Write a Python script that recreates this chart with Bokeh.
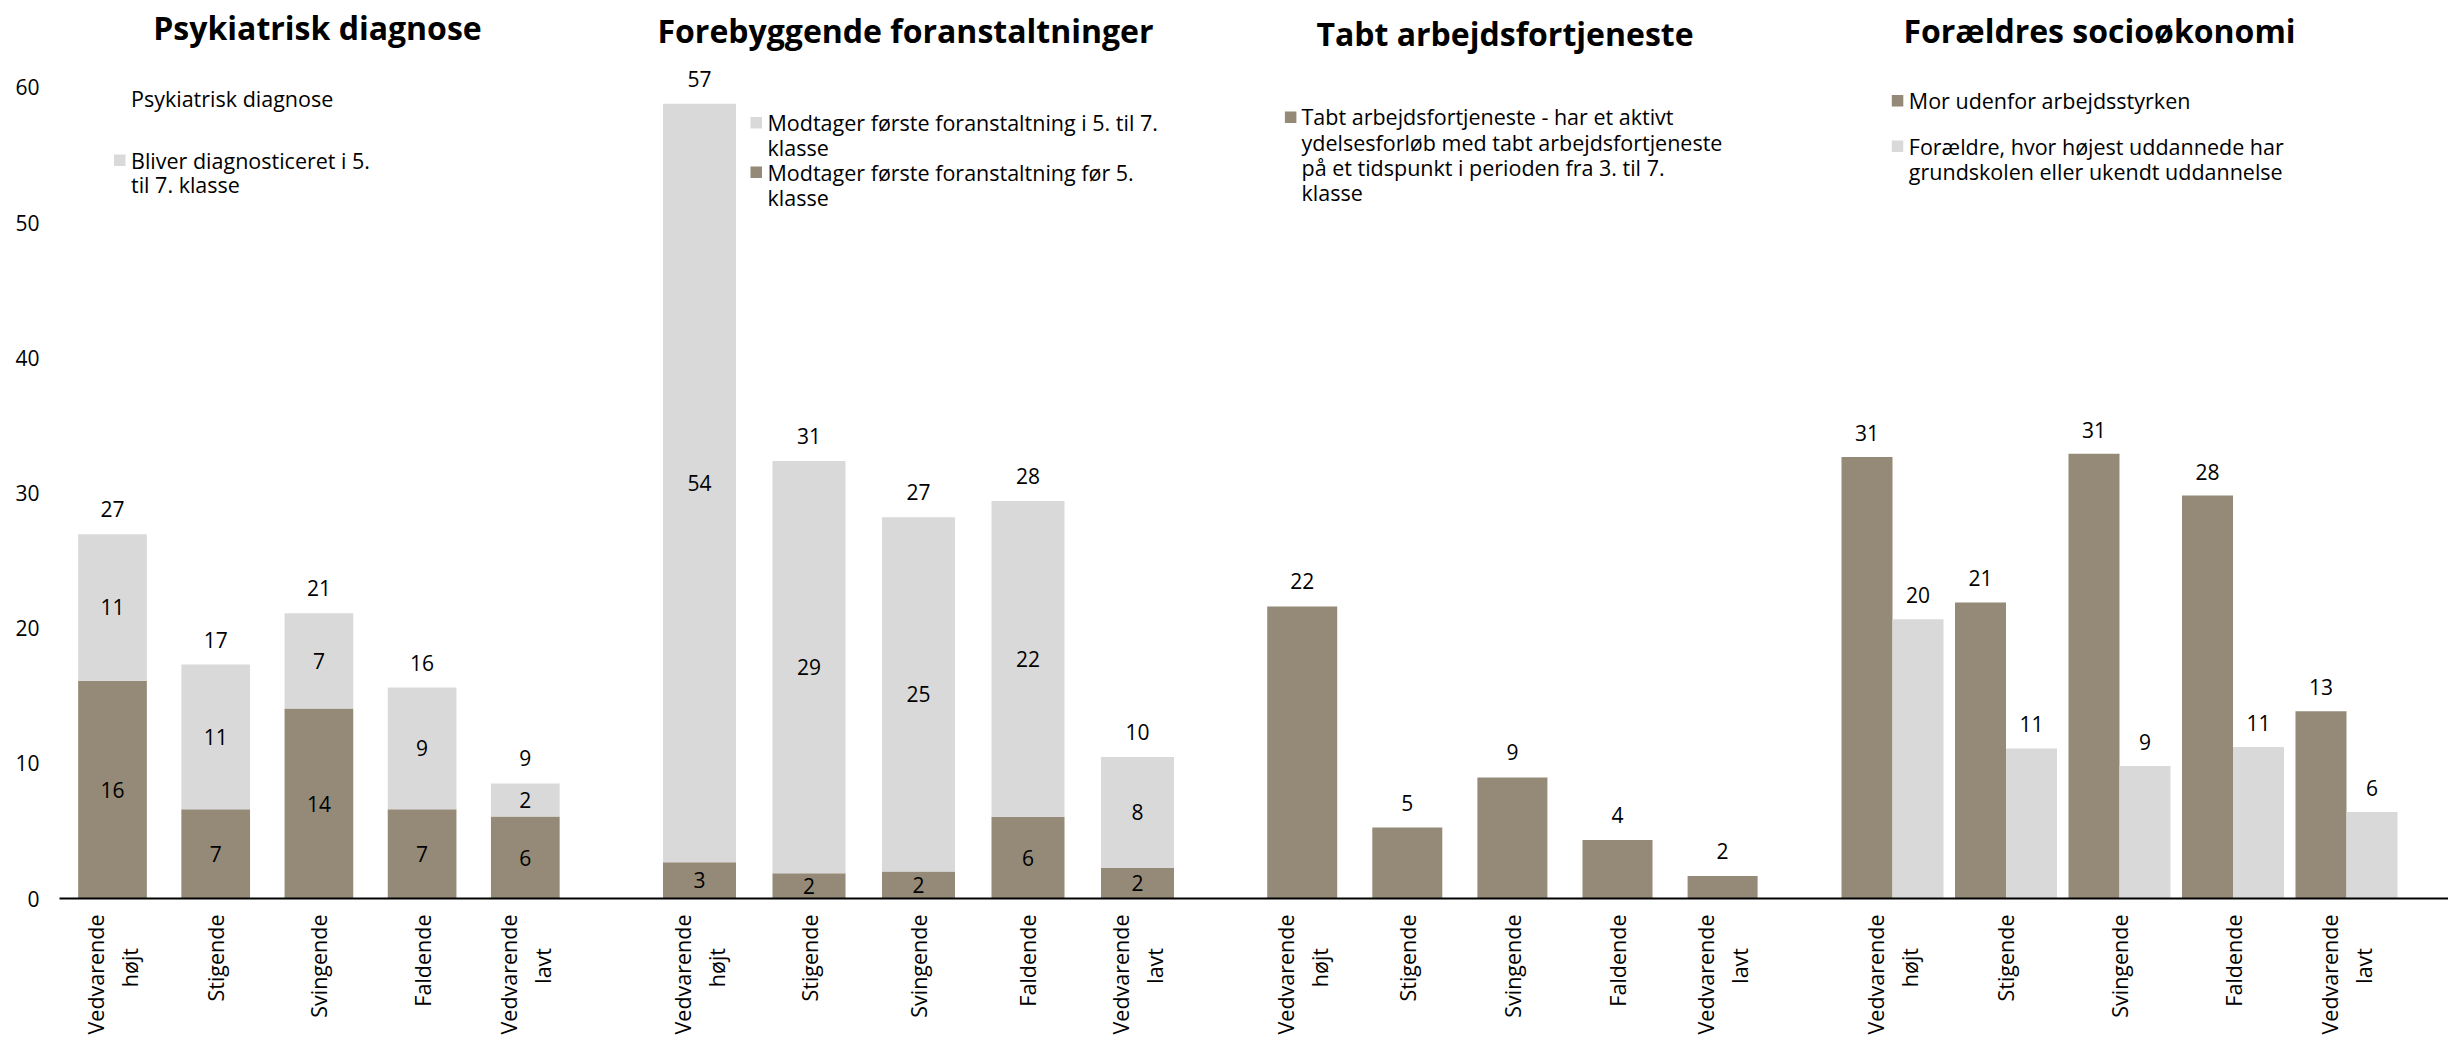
import math
from bokeh.plotting import figure
from bokeh.models import Range1d, FixedTicker, Label
from bokeh.embed import file_html
from bokeh.resources import INLINE
from bokeh.core.properties import value

# ---------------- data ----------------
categories = ["Vedvarende højt", "Stigende", "Svingende", "Faldende", "Vedvarende lavt"]
tick_labels = ["Vedvarende\nhøjt", "Stigende", "Svingende", "Faldende", "Vedvarende\nlavt"]
panel_titles = ["Psykiatrisk diagnose", "Forebyggende foranstaltninger",
                "Tabt arbejdsfortjeneste", "Forældres socioøkonomi"]
y_ticks = [0, 10, 20, 30, 40, 50, 60]

# Panel 1: Psykiatrisk diagnose (stacked)
psyk_before = [16.1, 6.6, 14.05, 6.6, 6.06]
psyk_5to7 = [10.85, 10.7, 7.05, 9.0, 2.45]
psyk_before_lbl = ["16", "7", "14", "7", "6"]
psyk_5to7_lbl = ["11", "11", "7", "9", "2"]
psyk_total_lbl = ["27", "17", "21", "16", "9"]

# Panel 2: Forebyggende foranstaltninger (stacked)
fore_before = [2.68, 1.86, 1.99, 6.05, 2.27]
fore_5to7 = [56.1, 30.5, 26.2, 23.35, 8.2]
fore_before_lbl = ["3", "2", "2", "6", "2"]
fore_5to7_lbl = ["54", "29", "25", "22", "8"]
fore_total_lbl = ["57", "31", "27", "28", "10"]

# Panel 3: Tabt arbejdsfortjeneste
tabt = [21.6, 5.25, 8.95, 4.33, 1.67]
tabt_lbl = ["22", "5", "9", "4", "2"]

# Panel 4: Forældres socioøkonomi (grouped)
mor = [32.66, 21.9, 32.9, 29.8, 13.85]
udd = [20.66, 11.1, 9.8, 11.2, 6.4]
mor_lbl = ["31", "21", "31", "28", "13"]
udd_lbl = ["20", "11", "9", "11", "6"]

# ---------------- layout (page pixels) ----------------
W, H = 2448, 1042
X0, Y0 = 59.0, 898.0          # frame left / baseline on the page
BORDER_L, BORDER_B = int(X0), int(H - Y0)
PPU = 13.52                   # pixels per data unit (y)
FIRST_CENTER = [112.0, 699.0, 1301.7, 1892.0]
STEP = [103.2, 109.5, 105.1, 113.5]
BAR_W = [68.7, 73.0, 70.0]
PAIR_BAR_W = 51.0
TITLE_X = [317.0, 905.0, 1504.5, 2099.0]
TITLE_MID = [27.0, 30.0, 33.0, 30.0]

BROWN = "#948a77"
GREY = "#d9d9d9"
FONT = "Open Sans"
NUM_SIZE = "21px"
LEG_SIZE = "21.5px"
NBSP = "\u00a0"


def dx(xs):
    return xs - X0


def dy(ys):
    return (Y0 - ys) / PPU


p = figure(width=W, height=H, output_backend="svg", toolbar_location=None,
           x_range=Range1d(0, W - BORDER_L), y_range=Range1d(0, (H - BORDER_B) / PPU),
           min_border_left=BORDER_L, min_border_right=0, min_border_top=0,
           min_border_bottom=BORDER_B)
p.outline_line_color = None
p.grid.visible = False
p.background_fill_color = "white"
p.border_fill_color = "white"

centers = [[dx(FIRST_CENTER[k] + STEP[k] * i) for i in range(5)] for k in range(4)]


def numbers(xs, ys, texts, yoff=0):
    p.text(x=xs, y=ys, text=texts, text_align="center", text_baseline="middle",
           text_font=value(FONT), text_font_size=NUM_SIZE, text_color="#000000",
           y_offset=yoff)


# Panel 1 and 2: stacked bars
for k, (low, high, low_l, high_l, tot_l) in enumerate([
        (psyk_before, psyk_5to7, psyk_before_lbl, psyk_5to7_lbl, psyk_total_lbl),
        (fore_before, fore_5to7, fore_before_lbl, fore_5to7_lbl, fore_total_lbl)]):
    xs = centers[k]
    tops = [a + b for a, b in zip(low, high)]
    p.vbar(x=xs, bottom=0, top=low, width=BAR_W[k], fill_color=BROWN, line_color=None)
    p.vbar(x=xs, bottom=low, top=tops, width=BAR_W[k], fill_color=GREY, line_color=None)
    numbers(xs, [v / 2 for v in low], low_l)
    numbers(xs, [a + b / 2 for a, b in zip(low, high)], high_l)
    numbers(xs, tops, tot_l, yoff=-25)

# Panel 3
p.vbar(x=centers[2], bottom=0, top=tabt, width=BAR_W[2], fill_color=BROWN, line_color=None)
numbers(centers[2], tabt, tabt_lbl, yoff=-25)

# Panel 4: grouped bars
xm = [c - PAIR_BAR_W / 2 for c in centers[3]]
xu = [c + PAIR_BAR_W / 2 for c in centers[3]]
p.vbar(x=xm, bottom=0, top=mor, width=PAIR_BAR_W, fill_color=BROWN, line_color=None)
p.vbar(x=xu, bottom=0, top=udd, width=PAIR_BAR_W, fill_color=GREY, line_color=None)
numbers(xm, mor, mor_lbl, yoff=-24)
numbers(xu, udd, udd_lbl, yoff=-24)


# Axes
def centred_lines(label):
    # second line padded so both lines are centred on each other
    if "\n" not in label:
        return label
    a, b = label.split("\n")
    pad = max(0, len(a) - len(b))
    return a + "\n" + b + NBSP * pad


ticks = []
overrides = {}
for k in range(4):
    for i in range(5):
        t = int(round(centers[k][i]))
        ticks.append(t)
        overrides[t] = centred_lines(tick_labels[i])
xa = p.xaxis[0]
xa.ticker = FixedTicker(ticks=ticks)
xa.major_label_overrides = overrides
xa.major_label_orientation = math.pi / 2
xa.major_tick_line_color = None
xa.minor_tick_line_color = None
xa.major_tick_out = 0
xa.major_tick_in = 0
xa.minor_tick_out = 0
xa.minor_tick_in = 0
xa.axis_line_color = "#000000"
xa.axis_line_width = 2
xa.major_label_text_font = FONT
xa.major_label_text_font_size = "21.5px"
xa.major_label_text_color = "#000000"
xa.major_label_standoff = 16

ya = p.yaxis[0]
ya.ticker = FixedTicker(ticks=y_ticks)
ya.axis_line_color = None
ya.major_tick_line_color = None
ya.minor_tick_line_color = None
ya.major_tick_out = 0
ya.major_tick_in = 0
ya.minor_tick_out = 0
ya.minor_tick_in = 0
ya.major_label_text_font = FONT
ya.major_label_text_font_size = NUM_SIZE
ya.major_label_text_color = "#000000"
ya.major_label_standoff = 20

# Titles
for k in range(4):
    p.add_layout(Label(x=dx(TITLE_X[k]), y=dy(TITLE_MID[k]), text=panel_titles[k],
                       text_align="center", text_baseline="middle",
                       text_font=FONT, text_font_style="bold", text_font_size="32px",
                       text_color="#000000"))


# Legends (drawn by hand)
def leg_text(x, y, text):
    p.add_layout(Label(x=dx(x), y=dy(y), text=text, text_align="left",
                       text_baseline="middle", text_font=FONT, text_font_size=LEG_SIZE,
                       text_color="#000000"))


def swatch(x1, x2, y1, y2, color):
    p.quad(left=[dx(x1)], right=[dx(x2)], top=[dy(y1)], bottom=[dy(y2)],
           fill_color=color, line_color=None)


legend_rows = [
    # (swatch color or None, swatch x, text x, swatch y-top, [(line, y)])
    (None, 113.5, 130.5, 0, [("Psykiatrisk diagnose", 97.7)]),
    (GREY, 113.5, 130.5, 154.0, [("Bliver diagnosticeret i 5.", 160.0), ("til 7. klasse", 184.0)]),
    (GREY, 750.0, 767.0, 116.5, [("Modtager første foranstaltning i 5. til 7.", 121.7), ("klasse", 146.7)]),
    (BROWN, 750.0, 767.0, 166.0, [("Modtager første foranstaltning før 5.", 171.7), ("klasse", 196.7)]),
    (BROWN, 1284.4, 1301.0, 111.0, [("Tabt arbejdsfortjeneste - har et aktivt", 116.0),
                                     ("ydelsesforløb med tabt arbejdsfortjeneste", 141.7),
                                     ("på et tidspunkt i perioden fra 3. til 7.", 166.7),
                                     ("klasse", 192.3)]),
    (BROWN, 1891.3, 1908.3, 94.5, [("Mor udenfor arbejdsstyrken", 100.0)]),
    (GREY, 1891.3, 1908.3, 140.0, [("Forældre, hvor højest uddannede har", 145.7),
                                    ("grundskolen eller ukendt uddannelse", 171.0)]),
]
for color, sx, tx, sy, lines in legend_rows:
    if color is not None:
        swatch(sx, sx + 11.5, sy, sy + 11.5, color)
    for text, ly in lines:
        leg_text(tx, ly, text)

open("out.html", "w").write(file_html(p, INLINE))
